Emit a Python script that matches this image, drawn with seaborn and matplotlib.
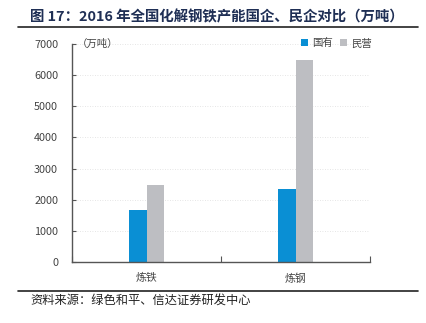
import matplotlib
matplotlib.use("Agg")
import matplotlib.pyplot as plt
import seaborn as sns
import pandas as pd

categories = ["炼铁", "炼钢"]
state_owned = [1680, 2330]
private = [2460, 6500]
series_names = ["国有", "民营"]
yticks = [0, 1000, 2000, 3000, 4000, 5000, 6000, 7000]

sns.set_theme(style="white")
plt.rcParams['font.family'] = ['Noto Sans CJK SC', 'DejaVu Sans']

df = pd.DataFrame({
    "cat": categories * 2,
    "val": state_owned + private,
    "series": [series_names[0]] * 2 + [series_names[1]] * 2,
})

fig = plt.figure(figsize=(4.26, 3.23), dpi=100)
ax = fig.add_axes([72/426, 1-262/323, 298/426, 218/323])

sns.barplot(data=df, x="cat", y="val", hue="series", ax=ax,
            palette=["#0a8fd4", "#bdbec2"], width=0.235, gap=0,
            saturation=1, edgecolor="none", legend=True)

ax.set_xlim(-0.5, 1.5)
ax.set_ylim(0, 7000)
ax.set_yticks(yticks)
ax.set_yticklabels([str(v) for v in yticks], fontsize=7.8, color="#444444")
ax.set_xticks([0, 1])
ax.set_xticklabels(categories, fontsize=7.8, color="#444444")
ax.set_xlabel("")
ax.set_ylabel("")
ax.grid(axis="y", linestyle=(0, (1, 2)), color="#dddddd", linewidth=0.6)
ax.set_axisbelow(True)
for s in ["top", "right"]:
    ax.spines[s].set_visible(False)
for s in ["left", "bottom"]:
    ax.spines[s].set_color("#555555")
    ax.spines[s].set_linewidth(1.0)
ax.tick_params(axis="y", direction="in", length=3, width=0.8, color="#555555", pad=10, left=True)
ax.tick_params(axis="x", length=0, pad=8)
ax.set_xticks([-0.5, 0.5, 1.5], minor=True)
ax.tick_params(axis="x", which="minor", direction="in", length=4, width=0.8, color="#555555", bottom=True)

ax.text(0.015, 7000, "（万吨）", fontsize=7.5, color="#444444", va="center", ha="left",
        transform=ax.get_yaxis_transform())

leg = ax.legend(loc="upper right", bbox_to_anchor=(1.02, 1.045), ncol=2, frameon=False,
                fontsize=7.5, handlelength=0.7, handleheight=0.7, handletextpad=0.4,
                columnspacing=0.6, labelcolor="#444444", borderaxespad=0)

fig.text(30/426, 1-17/323, "图 17：2016 年全国化解钢铁产能国企、民企对比（万吨）",
         fontsize=10.4, fontweight="bold", color="#1f2f55", va="center", ha="left")
fig.add_artist(plt.Line2D([18/426, 418/426], [1-27/323, 1-27/323], color="#222222", linewidth=1.2))
fig.add_artist(plt.Line2D([18/426, 418/426], [1-291/323, 1-291/323], color="#222222", linewidth=1.2))
fig.text(30/426, 1-301/323, "资料来源：绿色和平、信达证券研发中心",
         fontsize=8.8, style="italic", color="#222222", va="center", ha="left")

fig.savefig("out.png", dpi=100)
